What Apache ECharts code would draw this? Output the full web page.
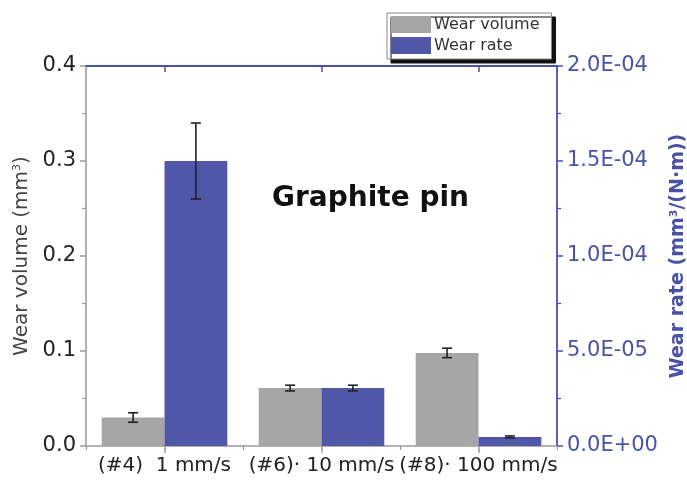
<!DOCTYPE html>
<html>
<head>
<meta charset="utf-8">
<script src="https://cdn.jsdelivr.net/npm/echarts@6/dist/echarts.min.js"></script>
<style>
  html, body { margin: 0; padding: 0; background: #fff; }
  #chart { width: 687px; height: 481px; }
</style>
</head>
<body>
<div id="chart"></div>
<script>
// Sliding speeds for the graphite pin tests
const categories = ['(#4)  1 mm/s', '(#6)· 10 mm/s', '(#8)· 100 mm/s'];
// Wear volume (mm^3) and its error
const wearVolume = [0.030, 0.061, 0.098];
const wearVolumeErr = [0.005, 0.003, 0.005];
// Wear rate (mm^3/(N·m)) and its error
const wearRate = [1.5e-4, 3.05e-5, 4.8e-6];
const wearRateErr = [2.0e-5, 1.5e-6, 5e-7];

const GRAY = '#a6a6a6';
const BLUE = '#5057a8';
const AXIS_BLUE = '#4a52a8';
const FONT = '"DejaVu Sans", "Liberation Sans", Arial, sans-serif';

function sciLabel(v) {
  if (v === 0) return '0.0E+00';
  const exp = Math.floor(Math.log10(Math.abs(v)) + 1e-9);
  const mant = v / Math.pow(10, exp);
  const sign = exp < 0 ? '-' : '+';
  const e = String(Math.abs(exp)).padStart(2, '0');
  return mant.toFixed(1) + 'E' + sign + e;
}

// Error bar drawn at the centre of the grouped bar (side = -1 left bar, +1 right bar)
function errorBar(side) {
  return function (params, api) {
    const i = api.value(0);
    const mid = api.value(1);
    const err = api.value(2);
    const band = api.size([1, 0])[0];
    const base = api.coord([i, mid]);
    const x = base[0] + side * band * 0.2;
    const yTop = api.coord([i, mid + err])[1];
    const yBot = api.coord([i, mid - err])[1];
    const cap = 5;
    const style = { stroke: '#222', lineWidth: 1.6 };
    return {
      type: 'group',
      children: [
        { type: 'line', shape: { x1: x, y1: yTop, x2: x, y2: yBot }, style: style },
        { type: 'line', shape: { x1: x - cap, y1: yTop, x2: x + cap, y2: yTop }, style: style },
        { type: 'line', shape: { x1: x - cap, y1: yBot, x2: x + cap, y2: yBot }, style: style }
      ]
    };
  };
}

const chart = echarts.init(document.getElementById('chart'), null, { renderer: 'canvas' });

chart.setOption({
  backgroundColor: '#fff',
  animation: false,
  grid: { left: 86, right: 130, top: 66, bottom: 35, containLabel: false, outerBoundsMode: 'none' },
  legend: {
    orient: 'vertical',
    left: 387,
    top: 13,
    padding: [3, 12, 5, 4],
    itemGap: 4,
    itemWidth: 40,
    itemHeight: 17,
    backgroundColor: '#fff',
    borderColor: '#888',
    borderWidth: 1,
    borderRadius: 0,
    shadowColor: '#111',
    shadowBlur: 0,
    shadowOffsetX: 4,
    shadowOffsetY: 4,
    textStyle: { fontFamily: FONT, fontSize: 16, color: '#333', padding: [0, 0, 0, -2] },
    data: [
      { name: 'Wear volume', icon: 'rect' },
      { name: 'Wear rate', icon: 'rect' }
    ]
  },
  xAxis: [
    {
      type: 'category',
      data: categories,
      position: 'bottom',
      axisLine: { lineStyle: { color: '#999', width: 1.5 } },
      axisTick: { show: true, alignWithLabel: true, length: 7, lineStyle: { color: '#999', width: 1.5 } },
      axisLabel: { fontFamily: FONT, fontSize: 20, color: '#222', margin: 10, interval: 0 }
    },
    {
      type: 'category',
      data: categories,
      position: 'bottom',
      axisLine: { show: false },
      axisTick: { show: true, length: 4, lineStyle: { color: '#999', width: 1.2 } },
      axisLabel: { show: false }
    },
    {
      type: 'category',
      data: categories,
      position: 'top',
      axisLine: { lineStyle: { color: AXIS_BLUE, width: 1.8 } },
      axisTick: { show: true, inside: true, alignWithLabel: true, length: 6, lineStyle: { color: AXIS_BLUE, width: 1.5 } },
      axisLabel: { show: false }
    }
  ],
  yAxis: [
    {
      type: 'value',
      min: 0,
      max: 0.4,
      interval: 0.1,
      position: 'left',
      name: 'Wear volume (mm{sup|3})',
      nameLocation: 'middle',
      nameGap: 45,
      nameTextStyle: {
        fontFamily: FONT, fontSize: 20, color: '#444',
        rich: { sup: { fontFamily: FONT, fontSize: 11, color: '#444', verticalAlign: 'top', padding: [0, 0, 8, 0] } }
      },
      axisLine: { show: true, lineStyle: { color: '#999', width: 1.5 } },
      axisTick: { show: true, length: 6, lineStyle: { color: '#999', width: 1.5 } },
      minorTick: { show: true, splitNumber: 2, length: 4, lineStyle: { color: '#999', width: 1.2 } },
      splitLine: { show: false },
      axisLabel: { fontFamily: FONT, fontSize: 21, color: '#222', margin: 10, formatter: v => v.toFixed(1) }
    },
    {
      type: 'value',
      min: 0,
      max: 2e-4,
      interval: 5e-5,
      position: 'right',
      name: 'Wear rate (mm{sup|3}/(N·m))',
      nameLocation: 'middle',
      nameGap: 106,
      nameRotate: 90,
      nameTextStyle: {
        fontFamily: FONT, fontSize: 19, fontWeight: 'bold', color: AXIS_BLUE,
        rich: { sup: { fontFamily: FONT, fontSize: 11, fontWeight: 'bold', color: AXIS_BLUE, verticalAlign: 'top', padding: [0, 0, 8, 0] } }
      },
      axisLine: { show: true, lineStyle: { color: AXIS_BLUE, width: 1.8 } },
      axisTick: { show: true, length: 6, lineStyle: { color: AXIS_BLUE, width: 1.5 } },
      minorTick: { show: true, splitNumber: 2, length: 4, lineStyle: { color: AXIS_BLUE, width: 1.2 } },
      splitLine: { show: false },
      axisLabel: { fontFamily: FONT, fontSize: 21, color: AXIS_BLUE, margin: 10, formatter: sciLabel }
    }
  ],
  graphic: [
    {
      type: 'text',
      left: 272,
      top: 185,
      style: {
        text: 'Graphite pin',
        font: 'bold 28px "DejaVu Sans", sans-serif',
        fill: '#111'
      }
    }
  ],
  series: [
    {
      name: 'Wear volume',
      type: 'bar',
      xAxisIndex: 0,
      yAxisIndex: 0,
      data: wearVolume,
      barGap: '0%',
      barCategoryGap: '20%',
      itemStyle: { color: GRAY }
    },
    {
      name: 'Wear rate',
      type: 'bar',
      xAxisIndex: 0,
      yAxisIndex: 1,
      data: wearRate,
      barGap: '0%',
      barCategoryGap: '20%',
      itemStyle: { color: BLUE }
    },
    {
      type: 'custom',
      xAxisIndex: 0,
      yAxisIndex: 0,
      renderItem: errorBar(-1),
      data: wearVolume.map((v, i) => [i, v, wearVolumeErr[i]]),
      encode: { x: 0, y: 1 },
      z: 10,
      silent: true
    },
    {
      type: 'custom',
      xAxisIndex: 0,
      yAxisIndex: 1,
      renderItem: errorBar(1),
      data: wearRate.map((v, i) => [i, v, wearRateErr[i]]),
      encode: { x: 0, y: 1 },
      z: 10,
      silent: true
    }
  ]
});
</script>
</body>
</html>
